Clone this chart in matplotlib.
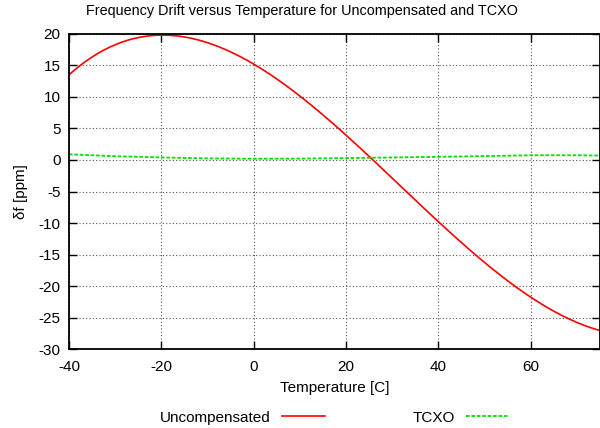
import matplotlib
matplotlib.use("Agg")
import numpy as np
import matplotlib.pyplot as plt

plt.rcParams['font.family'] = ['Liberation Sans', 'DejaVu Sans']
plt.rcParams['axes.unicode_minus'] = False

# values
temp_unc = [-40, -34.7, -27.5, -20, -10, 0, 8.5, 20, 25.75, 33, 40, 50, 60, 67.7, 75]
drift_unc = [13.2, 16.9, 19.0, 19.7, 18.4, 15.1, 11.1, 4.1, 0.0, -4.9, -9.9, -16.2, -21.8, -25.0, -27.0]

temp_tcxo = [-40, -30, -20, -10, 0, 10, 20, 30, 40, 50, 60, 70, 75]
drift_tcxo = [0.9, 0.6, 0.4, 0.25, 0.2, 0.22, 0.3, 0.4, 0.5, 0.62, 0.75, 0.75, 0.7]

xticks = [-40, -20, 0, 20, 40, 60]
yticks = list(range(-30, 25, 5))

fig = plt.figure(figsize=(6, 4.28), dpi=100)
ax = fig.add_axes([0.115, 0.184, 0.885, 0.737])

# cubic fit through the read points to smooth the red curve
c = np.polyfit(temp_unc, drift_unc, 3)
xs = np.linspace(-40, 75, 300)
ax.plot(xs, np.polyval(c, xs), color='#ff0000', lw=1.2, label='Uncompensated')
ax.plot(temp_tcxo, drift_tcxo, color='#00e000', lw=1.3, ls=(0, (2, 1)), label='TCXO')

ax.set_xlim(-40, 75)
ax.set_ylim(-30, 20)
ax.set_xticks(xticks)
ax.set_yticks(yticks)
ax.grid(True, color='#555555', ls=(0, (1, 2)), lw=0.8)
ax.tick_params(direction='in', top=True, right=True, length=6, labelsize=11, width=1)
ax.tick_params(axis='x', pad=8)
ax.tick_params(axis='y', pad=6)
for s in ax.spines.values():
    s.set_linewidth(1.3)

ax.set_xlabel('Temperature [C]', fontsize=11, labelpad=5)
ax.set_ylabel('δf [ppm]', fontsize=11, labelpad=8)
fig.text(0.503, 0.975, 'Frequency Drift versus Temperature for Uncompensated and TCXO',
         ha='center', va='center', fontsize=10.4)

fig.legend(loc='center', bbox_to_anchor=(0.5575, 0.024), ncol=2, frameon=False,
           markerfirst=False, fontsize=11, handlelength=2.8, handletextpad=0.72,
           columnspacing=5.75, borderpad=0, borderaxespad=0)

fig.savefig('out.png', dpi=100)
